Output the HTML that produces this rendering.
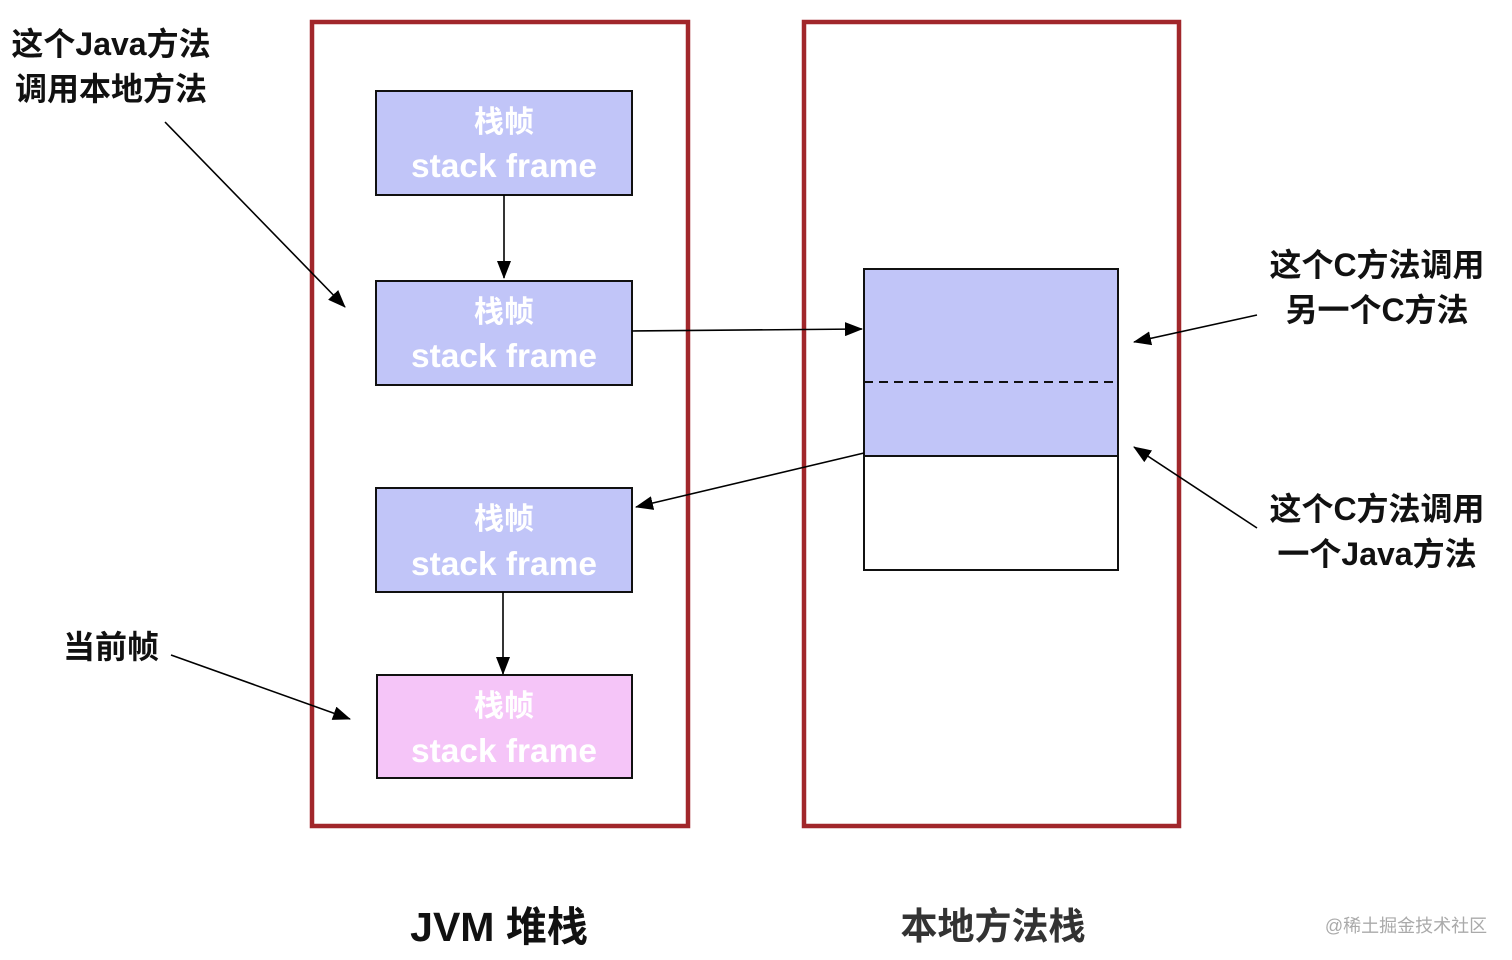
<!DOCTYPE html>
<html><head><meta charset="utf-8"><style>
html,body{margin:0;padding:0;background:#fff;width:1512px;height:960px;overflow:hidden}
svg{display:block}
text{font-family:"Liberation Sans","Noto Sans CJK SC",sans-serif}
</style></head><body>
<svg width="1512" height="960" viewBox="0 0 1512 960" xmlns="http://www.w3.org/2000/svg">
<defs>
<marker id="ah2" markerWidth="18" markerHeight="14" refX="17" refY="7" orient="auto" markerUnits="userSpaceOnUse" viewBox="0 0 18 14">
<path d="M0,0 L18,7 L0,14 z" fill="#000"/></marker>
</defs>
<rect x="312" y="22" width="376" height="804" fill="none" stroke="#a1272b" stroke-width="4.5"/>
<rect x="804" y="22" width="375" height="804" fill="none" stroke="#a1272b" stroke-width="4.5"/>
<g stroke="#111" stroke-width="2">
<rect x="376" y="91" width="256" height="104" fill="#c1c5f8"/>
<rect x="376" y="281" width="256" height="104" fill="#c1c5f8"/>
<rect x="376" y="488" width="256" height="104" fill="#c1c5f8"/>
<rect x="377" y="675" width="255" height="103" fill="#f5c5f8"/>
</g>
<g fill="#fff" font-weight="bold" text-anchor="middle">
<text x="504" y="132" font-size="30">栈帧</text><text x="504" y="177" font-size="33" textLength="186" lengthAdjust="spacingAndGlyphs">stack frame</text>
<text x="504" y="322" font-size="30">栈帧</text><text x="504" y="367" font-size="33" textLength="186" lengthAdjust="spacingAndGlyphs">stack frame</text>
<text x="504" y="529" font-size="30">栈帧</text><text x="504" y="575" font-size="33" textLength="186" lengthAdjust="spacingAndGlyphs">stack frame</text>
<text x="504" y="716" font-size="30">栈帧</text><text x="504" y="762" font-size="33" textLength="186" lengthAdjust="spacingAndGlyphs">stack frame</text>
</g>
<rect x="864" y="269" width="254" height="187" fill="#c1c5f8"/>
<rect x="864" y="269" width="254" height="301" fill="none" stroke="#111" stroke-width="2"/>
<line x1="864" y1="456" x2="1118" y2="456" stroke="#111" stroke-width="2"/>
<line x1="864" y1="382" x2="1118" y2="382" stroke="#111" stroke-width="2" stroke-dasharray="9,6"/>
<g stroke="#000" stroke-width="1.6" fill="none">
<line x1="504" y1="195" x2="504" y2="278" marker-end="url(#ah2)"/>
<line x1="503" y1="592" x2="503" y2="674" marker-end="url(#ah2)"/>
<line x1="632" y1="331" x2="862" y2="329" marker-end="url(#ah2)"/>
<line x1="864" y1="453" x2="636" y2="507" marker-end="url(#ah2)"/>
<line x1="165" y1="122" x2="345" y2="307" marker-end="url(#ah2)"/>
<line x1="171" y1="655" x2="350" y2="719" marker-end="url(#ah2)"/>
<line x1="1257" y1="315" x2="1134" y2="342" marker-end="url(#ah2)"/>
<line x1="1257" y1="528" x2="1134" y2="447" marker-end="url(#ah2)"/>
</g>
<g font-weight="bold" font-size="32" fill="#111" text-anchor="middle">
<text x="111" y="55">这个Java方法</text>
<text x="111" y="100">调用本地方法</text>
<text x="111" y="658">当前帧</text>
<text x="1377" y="276">这个C方法调用</text>
<text x="1377" y="321">另一个C方法</text>
<text x="1377" y="520">这个C方法调用</text>
<text x="1377" y="565">一个Java方法</text>
<text x="499" y="941" font-size="41">JVM 堆栈</text>
<text x="993" y="939" font-size="37" fill="#333">本地方法栈</text>
</g>
<text x="1406" y="932" font-size="18" fill="#aaa" text-anchor="middle">@稀土掘金技术社区</text>
</svg>
</body></html>
